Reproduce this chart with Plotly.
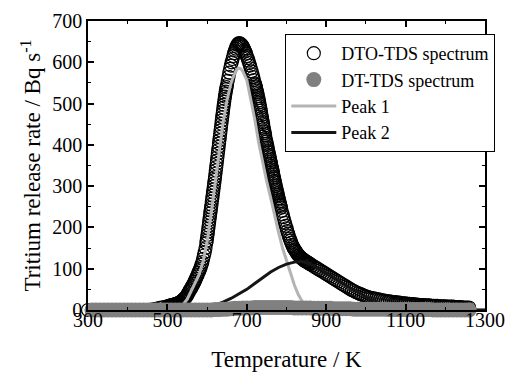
import plotly.graph_objects as go

# ---------------- data ----------------
# DTO-TDS spectrum (open circles): temperature (K) segments and release rate (Bq/s)
dto_T_segments = [
    list(range(300, 500, 10)),
    list(range(500, 597, 2)),
    list(range(598, 651, 1)),
    list(range(652, 721, 2)),
    list(range(721, 786, 1)),
    list(range(786, 859, 2)),
    list(range(860, 1261, 5)),
]
dto_rate_segments = [
    [0, 0, 0, 0, 0, 0, 0, 0, 0, 0, 0, 0, 0, 0, 0, 0, 1, 3, 5, 7],
    [9, 9, 10, 10, 11, 11, 12, 12, 13, 13,
     14, 15, 15, 16, 17, 18, 19, 20, 22, 23,
     25, 27, 29, 31, 33, 36, 40, 43, 47, 50,
     53, 57, 60, 64, 68, 72, 76, 81, 85, 90,
     94, 99, 104, 110, 116, 124, 132, 140, 150],
    [162, 168, 175, 182, 189, 197, 204, 212, 219, 226,
     234, 241, 248, 255, 263, 270, 277, 285, 292, 300,
     307, 315, 322, 330, 338, 346, 354, 362, 370, 379,
     387, 395, 403, 411, 419, 427, 435, 443, 451, 459,
     467, 475, 482, 490, 497, 504, 511, 517, 523, 529,
     535, 540, 545],
    [555, 565, 575, 584, 592, 600, 608, 615, 622, 628,
     633, 638, 642, 645, 646, 646, 645, 643, 641, 638,
     634, 630, 626, 621, 615, 610, 604, 598, 592, 585,
     578, 571, 564, 557, 549],
    [546, 542, 539, 535, 531, 527, 523, 518, 513, 508,
     503, 498, 493, 488, 483, 477, 472, 466, 461, 455,
     450, 444, 439, 433, 428, 423, 417, 412, 408, 403,
     399, 394, 390, 385, 381, 376, 372, 367, 363, 358,
     354, 349, 345, 340, 336, 331, 327, 322, 318, 313,
     309, 304, 300, 295, 291, 287, 283, 279, 275, 271,
     267, 263, 259, 255, 252],
    [248, 240, 232, 225, 218, 211, 204, 198, 191, 185,
     179, 173, 168, 163, 158, 154, 150, 147, 144, 141,
     138, 135, 133, 131, 129, 127, 125, 124, 122, 121,
     119, 118, 117, 116, 115, 113, 112],
    [111, 108, 105, 102, 99, 96, 93, 90, 87, 84,
     81, 78, 75, 72, 69, 66, 63, 60, 57, 54,
     51, 48, 46, 43, 41, 39, 37, 35, 33, 31,
     30, 29, 28, 27, 26, 25, 24, 23, 22, 21,
     21, 20, 19, 19, 18, 18, 17, 16, 16, 15,
     15, 14, 14, 13, 13, 12, 12, 12, 11, 11,
     11, 10, 10, 10, 10, 9, 9, 9, 9, 8,
     8, 8, 8, 7, 7, 7, 7, 6, 6, 6,
     6],
]
dto_T, dto_rate = [], []
for ts, vs in zip(dto_T_segments, dto_rate_segments):
    n = min(len(ts), len(vs))
    dto_T += ts[:n]
    dto_rate += vs[:n]

# DT-TDS spectrum (grey filled circles)
dt_T = list(range(310, 1266, 10))
dt_rate = ([0] * 31 +                       # 310 .. 610
           [1, 1, 2, 2, 3, 4, 4, 5, 5, 5,     # 620 .. 710
            6, 6, 6, 6, 6, 6, 6, 6, 6, 6,     # 720 .. 810
            5, 5, 5, 5, 5, 4, 4, 4, 4, 4,     # 820 .. 910
            3, 3, 3, 3, 3, 2, 2, 2, 2, 2,     # 920 .. 1010
            2, 2, 2, 2, 1, 1, 1, 1, 1, 1,     # 1020 .. 1110
            1, 1, 1, 1, 1, 0, 0, 0, 0, 0,     # 1120 .. 1210
            0, 0, 0, 0, 0, 0])                # 1220 .. 1260

# Peak 1 (light grey line)
p1_T = [300, 400, 480, 500, 510, 520, 530, 540, 550, 560, 570, 580, 590, 600, 610, 620,
        630, 640, 650, 660, 670, 678, 685, 690, 700, 710, 720, 730, 740, 750, 760, 770,
        780, 790, 800, 810, 820, 830, 840, 850, 860, 870, 900, 1000, 1300]
p1_rate = [0, 0, 0, 1, 2, 4, 8, 14, 26, 47, 64, 86, 118, 165, 232, 305,
           383, 452, 508, 549, 575, 586, 584, 578, 557, 512, 462, 405, 356, 312, 272, 228,
           188, 150, 118, 88, 60, 37, 20, 8, 2, 0, 0, 0, 0]

# Peak 2 (black line)
p2_T = [300, 400, 500, 520, 540, 560, 580, 600, 620, 640, 660, 680, 700, 720, 740, 760,
        780, 800, 820, 835, 850, 870, 890, 910, 930, 950, 970, 990, 1010, 1030, 1050,
        1070, 1090, 1110, 1150, 1200, 1300]
p2_rate = [0, 0, 0, 1, 1, 2, 4, 7, 12, 19, 28, 38, 50, 64, 79, 92,
           103, 111, 116, 118, 115, 107, 97, 86, 73, 60, 48, 37, 27, 19, 13,
           8, 5, 3, 1, 0, 0]

x_ticks = [300, 500, 700, 900, 1100, 1300]
y_ticks = [0, 100, 200, 300, 400, 500, 600, 700]

SERIF = "Liberation Serif, Times New Roman, serif"

# ---------------- figure ----------------
fig = go.Figure()
fig.add_trace(go.Scatter(
    x=dto_T, y=dto_rate, mode="markers", name="DTO-TDS spectrum", legendrank=1,
    marker=dict(symbol="circle-open", size=13, color="black", line=dict(width=1.2, color="black")),
    cliponaxis=False))
fig.add_trace(go.Scatter(
    x=p1_T, y=p1_rate, mode="lines", name="Peak 1", legendrank=3,
    line=dict(color="#b4b4b4", width=3)))
fig.add_trace(go.Scatter(
    x=p2_T, y=p2_rate, mode="lines", name="Peak 2", legendrank=4,
    line=dict(color="#151515", width=3)))
fig.add_trace(go.Scatter(
    x=dt_T, y=dt_rate, mode="markers", name="DT-TDS spectrum", legendrank=2,
    marker=dict(symbol="circle", size=15, color="#808080", line=dict(width=0)),
    cliponaxis=False))

axis_common = dict(
    showline=True, linecolor="black", linewidth=1.5, mirror="allticks",
    ticks="inside", ticklen=6, tickwidth=1.5, tickcolor="black",
    showgrid=False, zeroline=False, layer="above traces", automargin=False,
    tickfont=dict(family=SERIF, size=20, color="black"),
)

fig.update_xaxes(
    range=[300, 1300], tickvals=x_ticks, ticktext=[str(v) for v in x_ticks],
    minor=dict(dtick=100, tick0=300, ticks="inside", ticklen=3.5, tickwidth=1.2, tickcolor="black"),
    title=dict(text="Temperature / K", font=dict(family=SERIF, size=23, color="black"), standoff=28),
    ticklabelstandoff=-9,
    **axis_common)
fig.update_yaxes(
    range=[0, 700], tickvals=y_ticks, ticktext=[str(v) for v in y_ticks],
    minor=dict(dtick=50, tick0=0, ticks="inside", ticklen=3.5, tickwidth=1.2, tickcolor="black"),
    title=dict(text="Tritium release rate / Bq s<sup>-1</sup>",
               font=dict(family=SERIF, size=23, color="black"), standoff=5),
    **axis_common)

fig.update_layout(
    width=507, height=372,
    margin=dict(l=88, r=22, t=21, b=62, autoexpand=False),
    paper_bgcolor="white", plot_bgcolor="white",
    font=dict(family=SERIF, size=18, color="black"),
    showlegend=True,
    legend=dict(x=0.497, y=0.955, xanchor="left", yanchor="top",
                bgcolor="white", bordercolor="black", borderwidth=1,
                font=dict(family=SERIF, size=18, color="black"), tracegroupgap=0,
                itemsizing="trace", itemwidth=45),
)

fig.write_html("out.html")
